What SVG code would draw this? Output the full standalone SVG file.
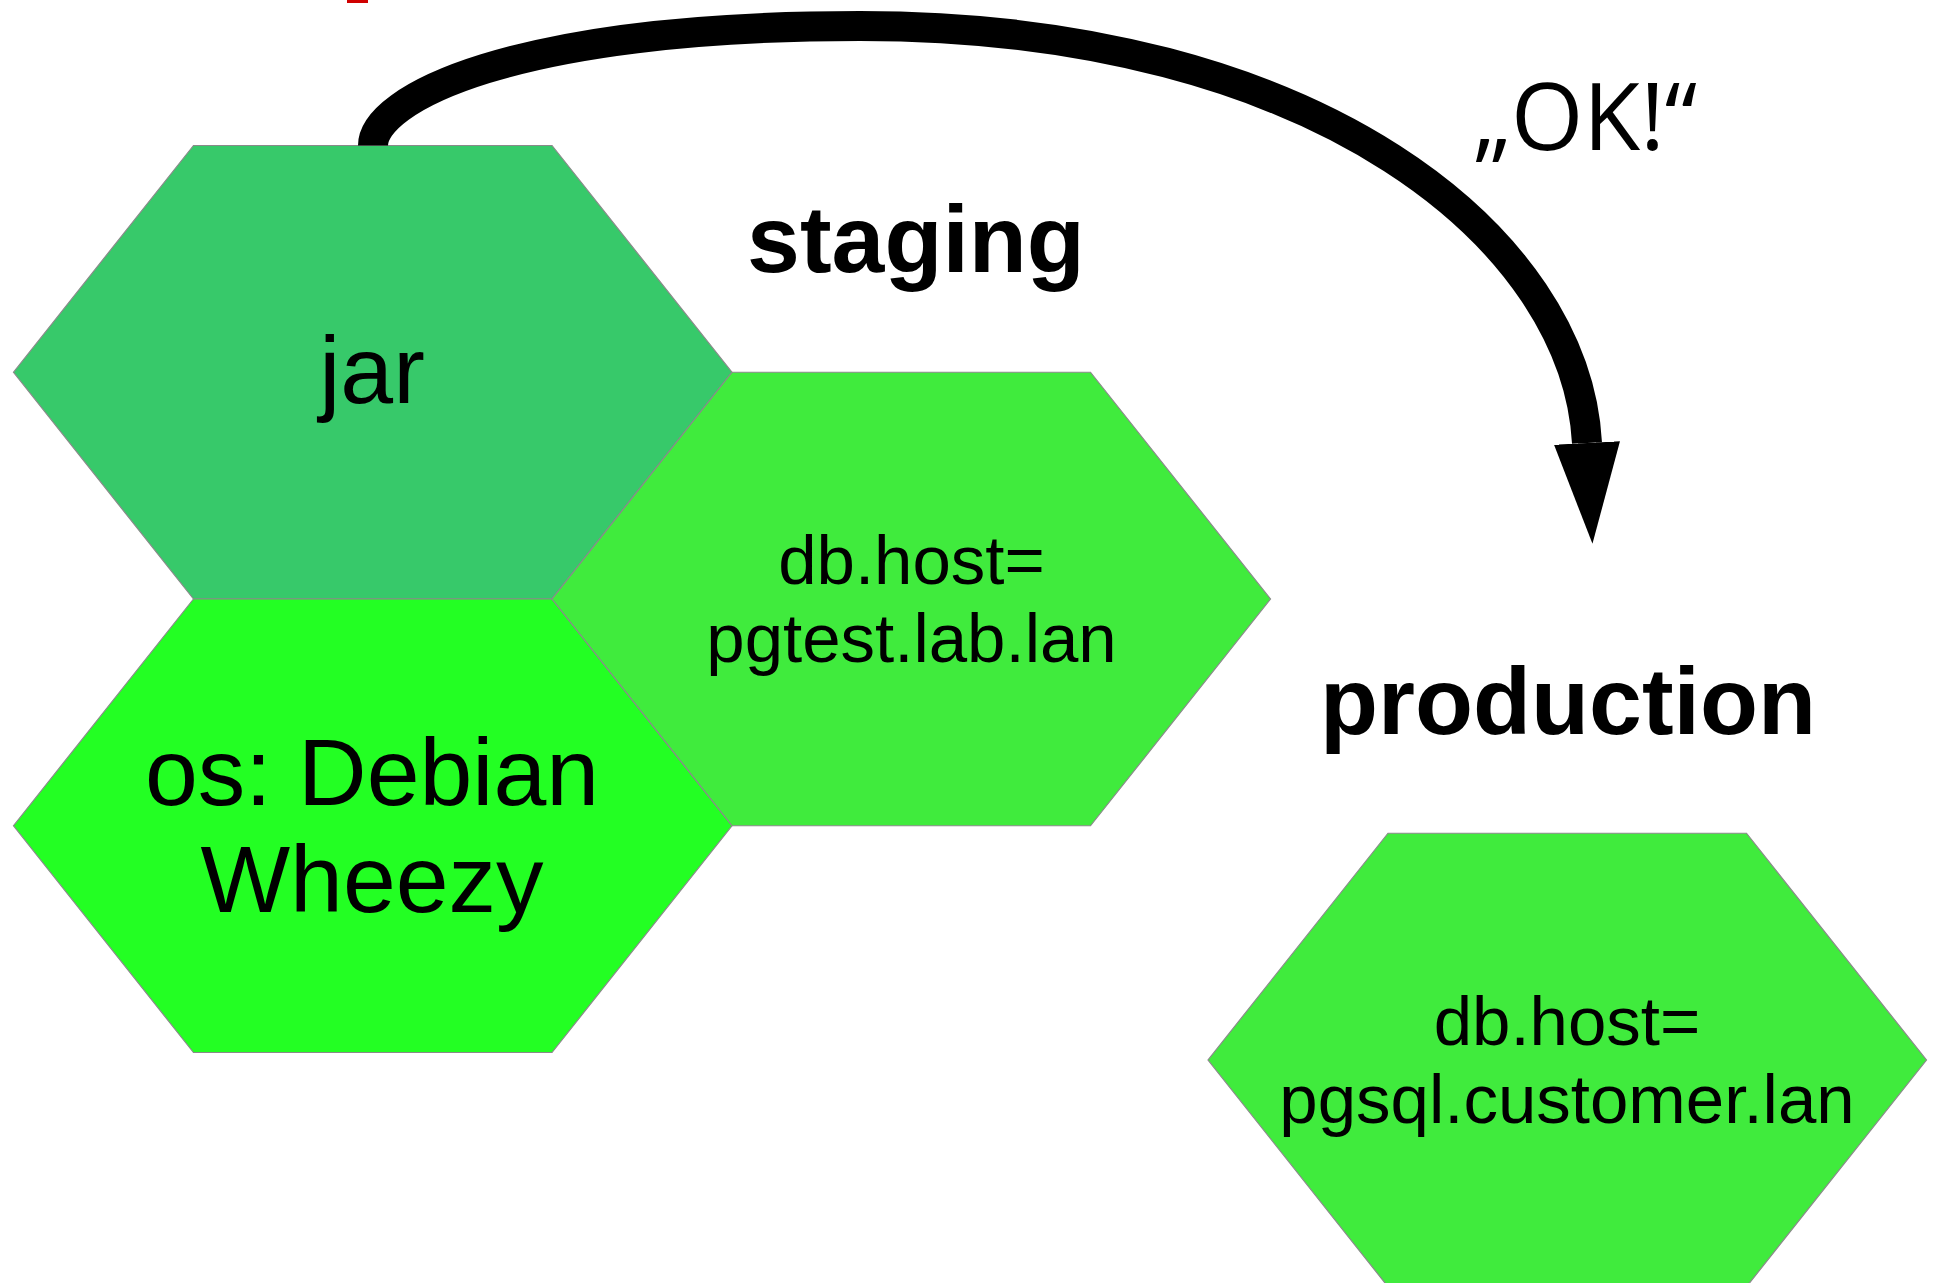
<svg xmlns="http://www.w3.org/2000/svg" width="1933" height="1283" viewBox="0 0 1933 1283">
<style>
.hex{stroke:#8a8a8a;stroke-width:1.2}
.lbl{font-family:"Liberation Sans",Arial,sans-serif;fill:#000;text-anchor:middle}
.big{font-size:95px}
.mid{font-size:69px}
.bold{font-family:"Liberation Sans",Arial,sans-serif;font-weight:bold;font-size:95px;fill:#000;text-anchor:middle}
.conn{fill:none;stroke:#000;stroke-width:30}
</style>
<defs>
<marker id="ah" markerUnits="userSpaceOnUse" viewBox="0 -35 105 70" markerWidth="105" markerHeight="70" refX="0" refY="0" orient="auto">
<path d="M0,-33 L101,0 L0,33 Z" fill="#000"/>
</marker>
</defs>
<rect width="1933" height="1283" fill="#fff"/>
<rect x="347" y="0" width="21" height="3" fill="#d00000"/>
<g id="node-jar">
<polygon class="hex" fill="#37c96a" points="193.5,145.5 552,145.5 732,372.25 552,599 193.5,599 13.5,372.25"/>
<text class="lbl big" x="372" y="403">jar</text>
</g>
<g id="node-os">
<polygon class="hex" fill="#23ff23" points="193.5,599 552,599 732,825.75 552,1052.5 193.5,1052.5 13.5,825.75"/>
<text class="lbl big" x="372" y="805">os: Debian</text>
<text class="lbl big" x="372" y="912">Wheezy</text>
</g>
<g id="node-staging-db">
<polygon class="hex" fill="#40eb3d" points="732,372.25 1090.5,372.25 1270.5,599 1090.5,825.75 732,825.75 552,599"/>
<text class="lbl mid" x="911.5" y="584">db.host=</text>
<text class="lbl mid" x="911.5" y="662">pgtest.lab.lan</text>
</g>
<g id="node-production-db">
<polygon class="hex" fill="#40eb3d" points="1388,833.25 1746.5,833.25 1926.5,1060 1746.5,1286.75 1388,1286.75 1208,1060"/>
<text class="lbl mid" x="1567" y="1045">db.host=</text>
<text class="lbl mid" x="1567" y="1123">pgsql.customer.lan</text>
</g>
<g id="label-staging">
<text class="bold" x="916" y="271.5">staging</text>
</g>
<g id="label-production">
<text class="bold" x="1568" y="733.5">production</text>
</g>
<g id="connectors">
<path class="conn" d="M373,145.5 C373,100 510,26 860,26 C1320,26 1576,240 1587,443" marker-end="url(#ah)"/>
<text x="1473" y="150" font-family="'Open Sans',sans-serif" font-size="93" fill="#000">„OK!“</text>
</g>
</svg>
